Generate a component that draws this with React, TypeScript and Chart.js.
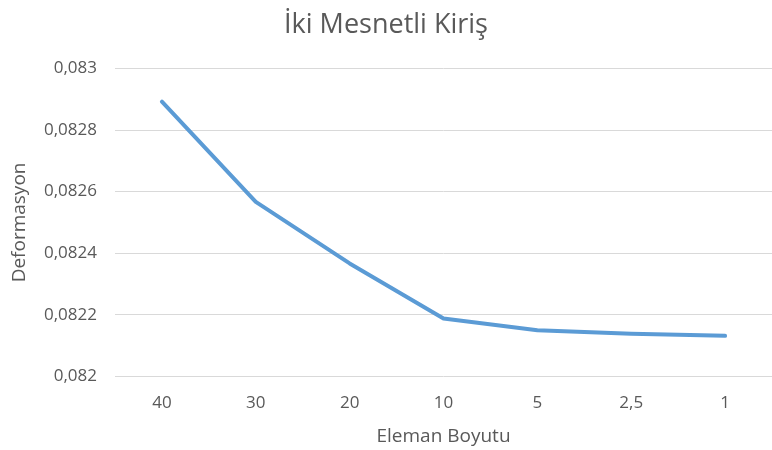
import React, { useEffect, useRef } from "react";
import { Chart, registerables } from "chart.js";

Chart.register(...registerables);

const categories = ["40", "30", "20", "10", "5", "2,5", "1"];
const deformasyon = [0.082892, 0.082567, 0.082367, 0.082188, 0.08215, 0.082139, 0.082132];
const yMin = 0.082;
const yMax = 0.083;
const yStep = 0.0002;

const FONT = "'Open Sans', 'Noto Sans', sans-serif";
const TEXT = "#595959";

export default function App() {
  const ref = useRef<HTMLCanvasElement | null>(null);
  useEffect(() => {
    if (!ref.current) return;
    const chart = new Chart(ref.current, {
      type: "line",
      data: {
        labels: categories,
        datasets: [
          {
            label: "Deformasyon",
            data: deformasyon,
            borderColor: "#5B9BD5",
            backgroundColor: "#5B9BD5",
            borderWidth: 4,
            pointRadius: 0,
            tension: 0,
            borderCapStyle: "round",
            borderJoinStyle: "round",
          },
        ],
      },
      options: {
        responsive: false,
        animation: false,
        layout: { padding: { left: 0, right: 0, top: 0, bottom: 0 } },
        plugins: {
          legend: { display: false },
          tooltip: { enabled: false },
          title: {
            display: true,
            text: "İki Mesnetli Kiriş",
            color: TEXT,
            font: { family: FONT, size: 27, weight: "normal" },
            padding: { top: 9, bottom: 27 },
          },
        },
        scales: {
          x: {
            offset: true,
            grid: { display: false },
            border: { display: false },
            ticks: { color: TEXT, font: { family: FONT, size: 17 }, padding: 8, autoSkip: false, maxRotation: 0 },
            title: {
              display: true,
              text: "Eleman Boyutu",
              color: TEXT,
              font: { family: FONT, size: 19 },
              padding: { top: 0, bottom: 2 },
            },
            afterFit: (s: any) => {
              s.height = 73.5;
            },
          },
          y: {
            min: yMin,
            max: yMax,
            grid: { color: "#D9D9D9", lineWidth: 1, drawTicks: false },
            border: { display: false },
            ticks: {
              stepSize: yStep,
              color: TEXT,
              font: { family: FONT, size: 17 },
              padding: 18,
              callback: (v: any) => String(Math.round(Number(v) * 1e4) / 1e4).replace(".", ","),
            },
            title: {
              display: true,
              text: "Deformasyon",
              color: TEXT,
              font: { family: FONT, size: 19 },
              padding: { top: 8, bottom: 0 },
            },
            afterFit: (s: any) => {
              s.width = 115;
            },
          },
        },
      },
    });
    return () => chart.destroy();
  }, []);
  return (
    <div style={{ position: "absolute", left: 0, top: 0, width: 772, height: 450, background: "#fff" }}>
      <canvas ref={ref} width={772} height={450} style={{ display: "block" }} />
    </div>
  );
}
